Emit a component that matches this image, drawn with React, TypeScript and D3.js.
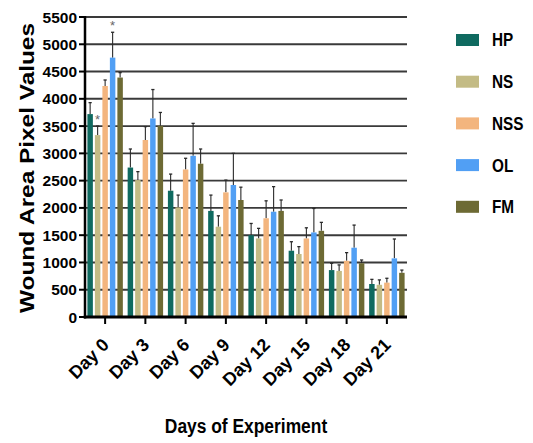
import { scaleBand, scaleLinear, range } from "d3";

// data
const days = ["Day 0", "Day 3", "Day 6", "Day 9", "Day 12", "Day 15", "Day 18", "Day 21"];
const groups = ["HP", "NS", "NSS", "OL", "FM"];
const colors = ["#0f6a60", "#c3bb85", "#f3b57e", "#519ff4", "#6d6a34"];

const hp = [3720, 2740, 2315, 1945, 1500, 1215, 860, 605];
const hpErr = [210, 340, 305, 290, 215, 165, 125, 85];
const ns = [3335, 2510, 2010, 1655, 1440, 1155, 845, 590];
const nsErr = [165, 155, 225, 200, 185, 135, 110, 90];
const nss = [4235, 3245, 2705, 2285, 1810, 1440, 1030, 630];
const nssErr = [110, 245, 205, 225, 320, 195, 150, 80];
const ol = [4755, 3640, 2955, 2420, 1930, 1550, 1270, 1075];
const olErr = [465, 530, 595, 580, 460, 440, 415, 355];
const fm = [4390, 3505, 2810, 2145, 1945, 1580, 985, 810];
const fmErr = [90, 245, 270, 235, 200, 155, 60, 50];

const yTicks = range(0, 5501, 500);
// significance marks: [day index, group index]
const stars = [[0, 1], [0, 3]];

const means = [hp, ns, nss, ol, fm];
const errs = [hpErr, nsErr, nssErr, olErr, fmErr];

const sans = "'Liberation Sans', Arial, sans-serif";

export default function App() {
  const left = 85, right = 407, top = 17, bottom = 317;

  const x = scaleBand().domain(days).range([left, right]);
  const inner = scaleBand()
    .domain(groups)
    .range([0, x.bandwidth()])
    .paddingInner(0.27)
    .paddingOuter(0.32);
  const y = scaleLinear().domain([0, 5500]).range([bottom, top]);

  return (
    <svg
      width={533}
      height={443}
      style={{ position: "absolute", left: 0, top: 0, background: "#fff" }}
    >
      {/* grid */}
      {yTicks.filter((t) => t > 0).map((t) => (
        <line key={t} x1={left} x2={right} y1={y(t)} y2={y(t)} stroke="#3a3a3a" strokeWidth={1.9} />
      ))}

      {/* bars + error bars */}
      {days.map((d, i) => (
        <g key={d} transform={`translate(${x(d)},0)`}>
          {groups.map((g, j) => {
            const bx = inner(g)!;
            const w = inner.bandwidth();
            const v = means[j][i];
            const e = v + errs[j][i];
            const cx = bx + w / 2;
            return (
              <g key={g}>
                <line x1={cx} x2={cx} y1={y(v)} y2={y(e)} stroke="#2a2a2a" strokeWidth={1.1} />
                <line x1={cx - 1.6} x2={cx + 1.6} y1={y(e)} y2={y(e)} stroke="#2a2a2a" strokeWidth={1.3} />
                <rect x={bx} y={y(v)} width={w} height={y(0) - y(v)} fill={colors[j]} />
              </g>
            );
          })}
        </g>
      ))}

      {stars.map(([i, j]) => {
        const cx = x(days[i])! + inner(groups[j])! + inner.bandwidth() / 2;
        const e = means[j][i] + errs[j][i];
        return (
          <text key={`${i}-${j}`} x={cx} y={y(e) - 2} textAnchor="middle" fontFamily={sans}
            fontSize={13} fill="#666">*</text>
        );
      })}

      {/* y axis */}
      <line x1={left} x2={left} y1={top - 1} y2={bottom + 1.5} stroke="#000" strokeWidth={2.5} />
      {yTicks.map((t) => (
        <g key={t}>
          <line x1={left - 6} x2={left} y1={y(t)} y2={y(t)} stroke="#000" strokeWidth={2} />
          <text x={left - 8} y={y(t)} dy="0.36em" textAnchor="end" fontFamily={sans}
            fontWeight="bold" fontSize={15.5} fill="#000">{t}</text>
        </g>
      ))}
      <text transform={`translate(34,${(top + bottom) / 2 + 1}) rotate(-90)`} textAnchor="middle"
        fontFamily={sans} fontWeight="bold" fontSize={20} fill="#000"
        textLength={290} lengthAdjust="spacingAndGlyphs">Wound Area Pixel Values</text>

      {/* x axis */}
      <line x1={left - 1.2} x2={right} y1={bottom} y2={bottom} stroke="#000" strokeWidth={3} />
      {days.map((d) => {
        const cx = x(d)! + x.bandwidth() / 2;
        return (
          <g key={d}>
            <line x1={cx} x2={cx} y1={bottom} y2={bottom + 7} stroke="#000" strokeWidth={2} />
            <text transform={`translate(${cx + 5},${bottom + 29}) rotate(-45)`}
              textAnchor="end" fontFamily={sans} fontWeight="bold" fontSize={18}
              fill="#000">{d}</text>
          </g>
        );
      })}
      <text transform="translate(246,433) scale(0.87,1)" textAnchor="middle" fontFamily={sans}
        fontWeight="bold" fontSize={20} fill="#000">Days of Experiment</text>

      {/* legend */}
      {groups.map((g, j) => (
        <g key={g} transform={`translate(456,${40 + j * 41.7})`}>
          <rect x={0} y={-6} width={23} height={12} fill={colors[j]} />
          <text transform="translate(36,0) scale(0.85,1)" dy="0.36em" fontFamily={sans}
            fontWeight="bold" fontSize={18} fill="#000">{g}</text>
        </g>
      ))}
    </svg>
  );
}
